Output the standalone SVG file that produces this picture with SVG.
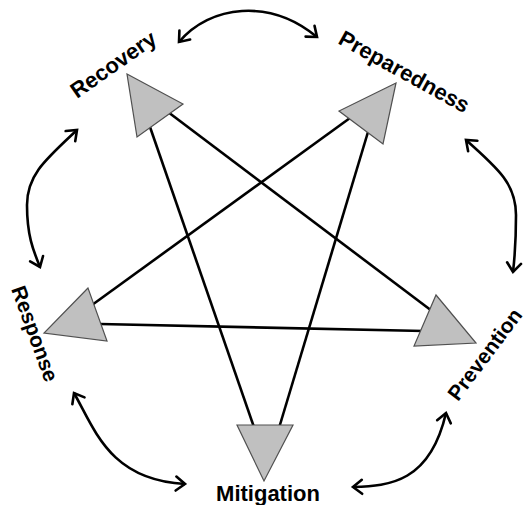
<svg xmlns="http://www.w3.org/2000/svg" width="526" height="505" viewBox="0 0 526 505">
<style>
.tri{fill:#c0c0c0;stroke:#505050;stroke-width:1.2;stroke-linejoin:miter}
.lbl{font-family:"Liberation Sans",Arial,sans-serif;font-weight:bold;font-size:22px;fill:#000}
.ln{stroke:#000;stroke-width:2.6;fill:none}
.cv{stroke:#000;stroke-width:2.6;fill:none;marker-start:url(#ah);marker-end:url(#ah)}
</style>
<defs>
<marker id="ah" markerUnits="userSpaceOnUse" markerWidth="20" markerHeight="20" refX="0" refY="0" viewBox="-12 -10 14 20" orient="auto-start-reverse">
<path d="M-9,-7 L0,0 L-9,7" fill="none" stroke="#000" stroke-width="2.6" stroke-linecap="round" stroke-linejoin="miter"/>
</marker>
</defs>
<rect width="526" height="505" fill="#fff"/>
<g id="connectors">
<line class="ln" x1="150" y1="127" x2="255" y2="430"/>
<line class="ln" x1="168" y1="112" x2="432" y2="311"/>
<line class="ln" x1="350" y1="118" x2="92" y2="305"/>
<line class="ln" x1="368" y1="132" x2="279" y2="428"/>
<line class="ln" x1="100" y1="324" x2="424" y2="331"/>
<path class="cv" d="M179,42 C210,5 270,-2 317,37"/>
<path class="cv" d="M77,130 C45,160 27,175 27,205 C27,235 33,250 40,267"/>
<path class="cv" d="M74,393 C95,430 110,480 185,484"/>
<path class="cv" d="M446,413 C430,482 390,486 353,487"/>
<path class="cv" d="M466,140 C500,170 516,185 516,215 C516,240 515,255 513,272"/>
</g>
<g id="recovery">
<polygon class="tri" points="127,74 183,104 137,137"/>
<text class="lbl" transform="translate(77,99) rotate(-35)">Recovery</text>
</g>
<g id="preparedness">
<polygon class="tri" points="396,83 339,111 383,144"/>
<text class="lbl" transform="translate(337,43) rotate(29)">Preparedness</text>
</g>
<g id="response">
<polygon class="tri" points="88,288 44,333 107,341"/>
<text class="lbl" style="font-size:21px" transform="translate(11,289) rotate(70)">Response</text>
</g>
<g id="mitigation">
<polygon class="tri" points="237,425 293,425 264,481"/>
<text class="lbl" x="268" y="501" text-anchor="middle">Mitigation</text>
</g>
<g id="prevention">
<polygon class="tri" points="436,295 476,343 414,346"/>
<text class="lbl" style="font-size:21px" transform="translate(458,402) rotate(-53)">Prevention</text>
</g>
</svg>
